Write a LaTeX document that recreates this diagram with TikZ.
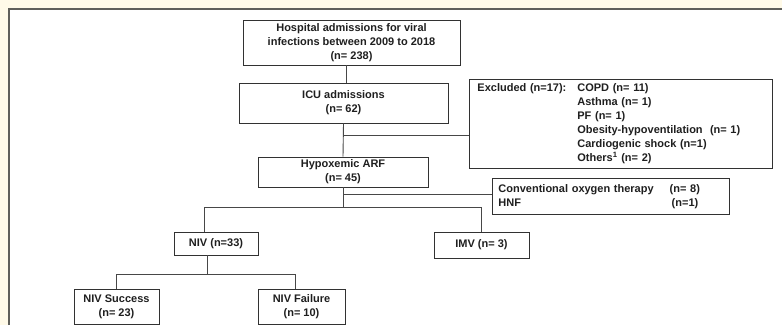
\documentclass[tikz,border=0pt]{standalone}
\usepackage{fontspec}
\setmainfont{Liberation Sans}
\usepackage{tikz}
\usetikzlibrary{positioning, calc}
\definecolor{cream}{RGB}{255,250,232}
\definecolor{framegray}{RGB}{95,95,90}
\definecolor{boxgray}{RGB}{50,50,50}

\begin{document}
\begin{tikzpicture}[x=1pt, y=-1pt,
  font=\bfseries\fontsize{11}{14}\selectfont,
  box/.style={draw=boxgray, line width=0.9pt, align=center, inner sep=2pt, text=black!88},
  link/.style={draw=boxgray!90, line width=0.9pt}]
  \useasboundingbox (0,0) rectangle (782,325);
  \fill[cream] (0,0) rectangle (782,325);
  \fill[white] (9,9) rectangle (782,325);
  \draw[framegray, line width=1.6pt] (9,325) -- (9,9) -- (782,9);

  % boxes
  \node[box, minimum width=217pt, minimum height=45pt] (hosp) at (351.5,42.5)
    {Hospital admissions for viral\\infections between 2009 to 2018\\(n= 238)};
  \node[box, minimum width=209pt, minimum height=40pt] (icu) at (343.5,103)
    {ICU admissions\\(n= 62)};
  \node[box, anchor=north west, text width=287pt, inner xsep=8pt, minimum height=89pt, align=left] (excl) at (469,79)
    {\begin{tabular}{@{}l@{\hspace{11pt}}l@{}}
      Excluded (n=17): & COPD (n= 11)\\
      & Asthma (n= 1)\\
      & PF (n= 1)\\
      & Obesity-hypoventilation~ (n= 1)\\
      & Cardiogenic shock (n=1)\\
      & Others\textsuperscript{1} (n= 2)
    \end{tabular}};
  \node[box, minimum width=170pt, minimum height=30pt] (hypo) at (343,172)
    {Hypoxemic ARF\\(n= 45)};
  \node[box, anchor=north west, text width=225pt, inner xsep=6pt, minimum height=36pt, align=left] (conv) at (492,178)
    {\begin{tabular}{@{}l@{\hspace{16pt}}l@{}}
      Conventional oxygen therapy & (n= 8)\\
      HNF & \hspace{2pt}(n=1)
    \end{tabular}};
  \node[box, minimum width=84pt, minimum height=23pt] (niv) at (216,243.5) {NIV (n=33)};
  \node[box, minimum width=95pt, minimum height=26pt] (imv) at (481.5,245) {IMV (n= 3)};
  \node[box, minimum width=85pt, minimum height=35pt] (succ) at (116.5,306.5) {NIV Success\\(n= 23)};
  \node[box, minimum width=87pt, minimum height=35pt] (fail) at (301.5,306.5) {NIV Failure\\(n= 10)};

  % connectors
  \draw[link] ([xshift=2.5pt]icu.north) -- ([xshift=2.5pt]icu.north |- hosp.south);
  \draw[link] (icu.south) -- (hypo.north);
  \path (icu.south) ++(0,12) coordinate (exj);
  \draw[link] (exj) -- (exj -| excl.west);
  \draw[link] (hypo.south) -- ++(0,20) coordinate (fork);
  \draw[link] ([yshift=2.5pt]conv.west) -- ([yshift=2.5pt]conv.west -| hypo.south);
  \draw[link] ([xshift=-12pt]niv.north) |- (fork) -| (imv.north);
  \draw[link] ([xshift=-9pt]niv.south) -- ++(0,19) coordinate (nfork);
  \draw[link] (succ.north) |- (nfork) -| ([xshift=-6.5pt]fail.north);
\end{tikzpicture}
\end{document}
